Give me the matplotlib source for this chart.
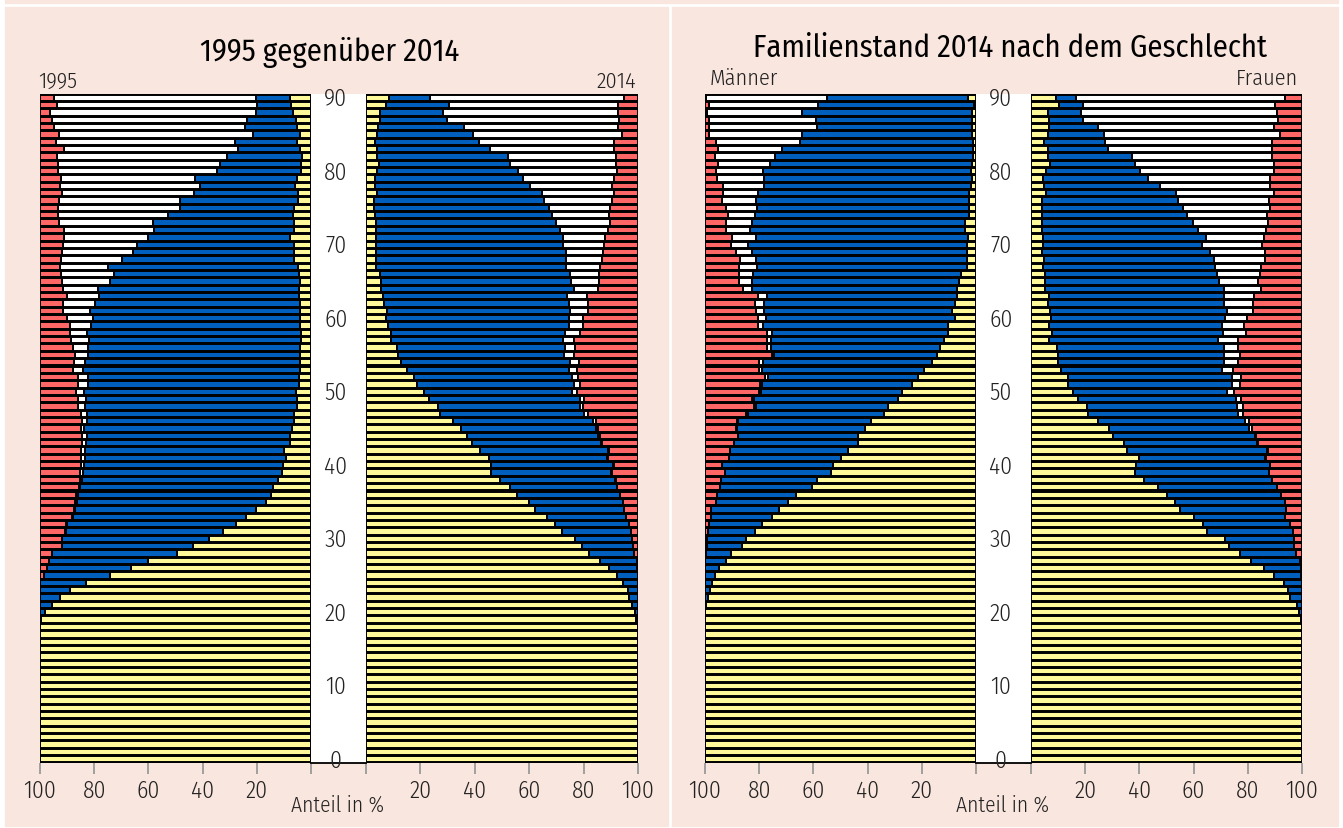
import numpy as np
import matplotlib
matplotlib.use("Agg")
import matplotlib.pyplot as plt
from matplotlib.patches import Rectangle
from matplotlib.transforms import blended_transform_factory, ScaledTranslation

plt.rcParams["font.family"] = ["Fira Sans Condensed", "Roboto Condensed",
                               "Liberation Sans Narrow", "DejaVu Sans"]
plt.rcParams["font.weight"] = 300

# ages from the top row (90) down to 0, all lists below use this order
alter = np.arange(90, -1, -1)

# --- 1995 (left panel, left half), shares in %
j1995_ledig = [
    7.7, 7.4, 6.8, 5.5, 5.2, 3.9, 5.2, 3.9, 3.2, 3.6,
    3.6, 5.2, 5.9, 4.9, 4.9, 6.2, 6.6, 6.2, 6.2, 7.6,
    6.4, 6.4, 6.2, 4.9, 4.6, 3.9, 4.6, 4.6, 4.1, 3.9,
    3.9, 4.1, 3.8, 3.8, 4.1, 4.1, 4.1, 4.1, 4.4, 4.4,
    5.7, 5.0, 5.0, 6.4, 6.4, 7.1, 7.6, 7.7, 9.8, 9.2,
    10.2, 10.8, 12.2, 14.0, 14.8, 16.7, 20.3, 24.1, 27.8, 32.3,
    37.5, 43.4, 49.4, 60.1, 66.5, 74.2, 83.1, 89.1, 92.5, 95.5,
    98.0, 99.5, 100, 100, 100, 100, 100, 100, 100, 100,
    100, 100, 100, 100, 100, 100, 100, 100, 100, 100, 100]
j1995_verh = [
    12.7, 12.6, 13.5, 18.0, 19.2, 17.4, 22.8, 22.9, 27.9, 29.9,
    31.2, 37.6, 34.9, 38.4, 43.3, 42.1, 46.3, 52.2, 51.6, 52.7,
    57.9, 59.4, 63.7, 70.1, 68.2, 70.4, 74.1, 73.5, 75.5, 77.5,
    76.7, 77.0, 78.9, 78.2, 78.3, 78.3, 79.2, 79.9, 78.0, 78.0,
    78.2, 78.0, 78.3, 76.1, 76.1, 76.5, 75.2, 75.3, 73.7, 74.3,
    73.4, 73.4, 72.4, 71.1, 71.1, 69.8, 66.8, 63.8, 62.4, 58.1,
    54.5, 48.5, 46.2, 36.7, 31.0, 24.4, 16.9, 10.9, 7.5, 4.5,
    2.0, 0.5, 0, 0, 0, 0, 0, 0, 0, 0,
    0, 0, 0, 0, 0, 0, 0, 0, 0, 0, 0]
j1995_verw = [
    74.4, 73.6, 76.0, 72.2, 70.3, 71.7, 66.2, 64.3, 62.6, 59.7,
    58.4, 49.3, 51.8, 48.7, 44.7, 45.2, 40.3, 34.5, 33.3, 30.7,
    27.3, 26.0, 22.4, 17.6, 19.3, 17.5, 12.9, 11.9, 11.8, 10.0,
    9.4, 7.7, 6.4, 6.4, 5.4, 4.7, 4.0, 3.9, 3.5, 3.5,
    2.7, 2.9, 2.8, 2.5, 1.9, 1.4, 1.6, 1.4, 1.5, 1.4,
    1.4, 1.0, 0.6, 0.5, 0.8, 0.5, 0.3, 0.2, 0.3, 0.3,
    0, 0, 0, 0, 0, 0, 0, 0, 0, 0,
    0, 0, 0, 0, 0, 0, 0, 0, 0, 0,
    0, 0, 0, 0, 0, 0, 0, 0, 0, 0, 0]
j1995_gesch = [
    5.2, 6.4, 3.7, 4.3, 5.3, 7.0, 5.8, 8.9, 6.3, 6.8,
    6.8, 7.9, 7.4, 8.0, 7.1, 6.5, 6.8, 7.1, 8.9, 9.0,
    8.4, 8.2, 7.7, 7.4, 7.9, 8.2, 8.4, 10.0, 8.6, 8.6,
    10.0, 11.2, 10.9, 11.6, 12.2, 12.9, 12.7, 12.1, 14.1, 14.1,
    13.4, 14.1, 13.9, 15.0, 15.6, 15.0, 15.6, 15.6, 15.0, 15.1,
    15.0, 14.8, 14.8, 14.4, 13.3, 13.0, 12.6, 11.9, 9.5, 9.3,
    8.0, 8.1, 4.4, 3.2, 2.5, 1.4, 0, 0, 0, 0,
    0, 0, 0, 0, 0, 0, 0, 0, 0, 0,
    0, 0, 0, 0, 0, 0, 0, 0, 0, 0, 0]

# --- 2014 (left panel, right half)
j2014_ledig = [
    8.3, 7.5, 5.0, 5.1, 4.5, 4.2, 3.2, 3.9, 4.2, 4.7,
    3.9, 3.2, 3.4, 4.0, 3.0, 3.1, 3.2, 3.6, 3.5, 3.6,
    3.8, 3.5, 3.7, 3.6, 5.2, 5.5, 5.6, 6.4, 6.7, 7.6,
    7.2, 8.1, 9.2, 9.2, 11.3, 11.9, 12.9, 15.1, 17.8, 18.6,
    21.4, 23.0, 26.3, 27.3, 31.9, 34.9, 37.1, 39.0, 41.9, 45.1,
    46.0, 46.0, 49.1, 52.9, 55.5, 59.8, 62.1, 66.4, 69.6, 72.1,
    76.8, 79.3, 82.0, 86.0, 89.2, 92.2, 94.6, 96.2, 96.8, 97.8,
    98.8, 99.4, 100, 100, 100, 100, 100, 100, 100, 100,
    100, 100, 100, 100, 100, 100, 100, 100, 100, 100, 100]
j2014_verh = [
    15.1, 23.1, 23.4, 24.8, 31.4, 35.1, 38.3, 41.7, 47.9, 48.4,
    52.0, 54.6, 57.0, 60.8, 62.6, 64.1, 65.3, 66.4, 67.9, 68.7,
    68.8, 70.2, 69.9, 70.1, 69.7, 70.0, 70.9, 67.6, 67.8, 67.5,
    67.3, 66.4, 64.0, 63.1, 62.0, 61.0, 62.1, 59.7, 57.8, 57.9,
    54.5, 55.8, 52.3, 53.0, 51.7, 49.5, 48.3, 47.3, 47.2, 43.6,
    44.9, 44.2, 42.6, 39.4, 37.9, 34.7, 32.6, 29.3, 27.0, 25.4,
    21.1, 18.9, 16.7, 13.5, 10.6, 7.8, 5.4, 3.8, 3.2, 2.2,
    1.2, 0.6, 0, 0, 0, 0, 0, 0, 0, 0,
    0, 0, 0, 0, 0, 0, 0, 0, 0, 0, 0]
j2014_verw = [
    71.3, 62.2, 64.4, 63.2, 56.9, 54.7, 49.8, 45.7, 39.8, 38.8,
    36.4, 33.5, 30.0, 26.4, 25.0, 22.6, 20.7, 19.7, 17.7, 15.6,
    15.0, 13.6, 13.0, 12.3, 10.9, 10.0, 8.9, 7.4, 7.2, 6.6,
    5.4, 5.2, 5.4, 4.3, 3.4, 3.4, 3.3, 2.8, 2.2, 2.2,
    1.7, 1.2, 1.3, 1.2, 1.1, 0.9, 0.5, 0.5, 0.2, 0.4,
    0.3, 0.2, 0.1, 0, 0, 0, 0, 0, 0, 0,
    0, 0, 0, 0, 0, 0, 0, 0, 0, 0,
    0, 0, 0, 0, 0, 0, 0, 0, 0, 0,
    0, 0, 0, 0, 0, 0, 0, 0, 0, 0, 0]
j2014_gesch = [
    5.3, 7.2, 7.2, 6.9, 7.2, 6.0, 8.7, 8.7, 8.1, 8.1,
    7.7, 8.7, 9.6, 8.8, 9.4, 10.2, 10.8, 10.3, 10.9, 12.1,
    12.4, 12.7, 13.4, 14.0, 14.2, 14.5, 14.6, 18.6, 18.3, 18.3,
    20.1, 20.3, 21.4, 23.4, 23.3, 23.7, 21.7, 22.4, 22.2, 21.3,
    22.4, 20.0, 20.1, 18.5, 15.3, 14.7, 14.1, 13.2, 10.7, 10.9,
    8.8, 9.6, 8.2, 7.7, 6.6, 5.5, 5.3, 4.3, 3.4, 2.5,
    2.1, 1.8, 1.3, 0.5, 0.2, 0, 0, 0, 0, 0,
    0, 0, 0, 0, 0, 0, 0, 0, 0, 0,
    0, 0, 0, 0, 0, 0, 0, 0, 0, 0, 0]

# --- Männer 2014 (right panel, left half)
maenner_ledig = [
    3.0, 0.8, 1.6, 1.3, 1.3, 1.3, 1.0, 1.0, 1.2, 1.5,
    1.9, 1.6, 1.9, 2.7, 2.4, 2.4, 2.4, 3.9, 3.9, 3.0,
    3.4, 3.4, 3.3, 3.3, 5.7, 6.3, 6.9, 6.9, 7.6, 8.7,
    7.9, 10.2, 10.5, 11.7, 13.2, 14.5, 16.2, 19.2, 21.4, 23.8,
    27.4, 28.9, 32.5, 33.8, 38.6, 40.9, 43.4, 43.4, 47.3, 49.9,
    52.7, 53.4, 58.7, 60.6, 66.3, 69.3, 72.6, 75.3, 78.9, 81.6,
    85.0, 86.4, 90.3, 92.1, 94.8, 96.3, 97.3, 98.0, 98.8, 99.5,
    100, 100, 100, 100, 100, 100, 100, 100, 100, 100,
    100, 100, 100, 100, 100, 100, 100, 100, 100, 100, 100]
maenner_verh = [
    51.8, 57.6, 62.5, 57.7, 57.4, 62.8, 64.1, 70.6, 72.9, 74.5,
    76.7, 76.8, 76.2, 77.8, 78.7, 78.4, 79.2, 78.9, 79.5, 78.1,
    80.7, 79.4, 78.0, 77.5, 76.6, 76.5, 75.9, 70.2, 70.7, 69.4,
    69.6, 68.4, 64.8, 63.9, 62.4, 60.1, 62.4, 59.8, 55.4, 55.2,
    52.1, 53.1, 48.8, 50.5, 49.4, 47.4, 44.6, 45.8, 43.6, 41.4,
    41.0, 39.1, 35.3, 33.9, 29.1, 26.7, 25.2, 22.6, 19.6, 17.2,
    14.2, 13.0, 9.5, 7.9, 5.2, 3.7, 2.7, 2.0, 1.2, 0.5,
    0, 0, 0, 0, 0, 0, 0, 0, 0, 0,
    0, 0, 0, 0, 0, 0, 0, 0, 0, 0, 0]
maenner_verw = [
    45.0, 40.3, 35.2, 39.7, 40.0, 34.6, 30.9, 23.5, 22.2, 19.1,
    17.4, 17.1, 15.2, 12.8, 12.5, 11.4, 9.9, 9.3, 8.7, 9.0,
    6.2, 5.8, 5.7, 6.5, 5.0, 4.6, 3.3, 3.3, 3.1, 3.2,
    3.0, 1.9, 1.9, 1.6, 1.6, 0.7, 1.5, 1.2, 1.0, 0.8,
    0.5, 0.6, 0.6, 0.4, 0.2, 0.1, 0, 0, 0, 0,
    0, 0, 0, 0, 0, 0, 0, 0, 0, 0,
    0, 0, 0, 0, 0, 0, 0, 0, 0, 0,
    0, 0, 0, 0, 0, 0, 0, 0, 0, 0,
    0, 0, 0, 0, 0, 0, 0, 0, 0, 0, 0]
maenner_gesch = [
    0.2, 1.3, 0.7, 1.3, 1.3, 1.3, 4.0, 4.9, 3.7, 4.9,
    4.0, 4.5, 6.7, 6.7, 6.4, 7.8, 8.5, 7.9, 7.9, 9.9,
    9.7, 11.4, 13.0, 12.7, 12.7, 12.6, 13.9, 19.6, 18.6, 18.7,
    19.5, 19.5, 22.8, 22.8, 22.8, 24.7, 19.9, 19.8, 22.2, 20.2,
    20.0, 17.4, 18.1, 15.3, 11.8, 11.6, 12.0, 10.8, 9.1, 8.7,
    6.3, 7.5, 6.0, 5.5, 4.6, 4.0, 2.2, 2.1, 1.5, 1.2,
    0.8, 0.6, 0.2, 0, 0, 0, 0, 0, 0, 0,
    0, 0, 0, 0, 0, 0, 0, 0, 0, 0,
    0, 0, 0, 0, 0, 0, 0, 0, 0, 0, 0]

# --- Frauen 2014 (right panel, right half)
frauen_ledig = [
    9.4, 10.5, 6.1, 6.7, 6.7, 6.1, 4.9, 6.4, 6.4, 7.0,
    5.7, 4.6, 4.9, 5.7, 4.2, 4.2, 4.2, 4.2, 3.9, 4.6,
    4.6, 4.2, 4.9, 4.6, 5.2, 5.2, 5.2, 6.7, 6.4, 7.0,
    7.3, 6.7, 7.9, 6.7, 9.7, 9.9, 9.9, 10.9, 13.6, 13.6,
    15.4, 17.2, 20.5, 21.1, 24.9, 28.9, 30.4, 34.3, 35.6, 39.8,
    38.8, 38.2, 41.6, 46.9, 50.1, 53.3, 55.1, 60.0, 63.6, 64.8,
    71.6, 72.9, 77.1, 81.3, 86.1, 89.5, 93.3, 94.9, 95.5, 98.0,
    98.8, 99.5, 100, 100, 100, 100, 100, 100, 100, 100,
    100, 100, 100, 100, 100, 100, 100, 100, 100, 100, 100]
frauen_verh = [
    7.2, 8.7, 12.2, 12.5, 18.2, 20.8, 22.5, 22.0, 30.7, 31.2,
    34.4, 38.5, 42.7, 47.9, 50.1, 51.9, 53.4, 55.4, 57.6, 59.9,
    58.4, 61.8, 62.6, 63.2, 63.4, 64.0, 66.1, 64.4, 65.0, 65.3,
    64.3, 63.7, 62.9, 62.3, 61.4, 61.4, 61.4, 59.5, 60.4, 60.4,
    56.8, 58.4, 55.5, 55.4, 54.1, 51.6, 52.2, 49.2, 51.5, 46.6,
    49.4, 49.5, 47.5, 43.7, 42.0, 40.3, 38.9, 33.7, 31.8, 31.9,
    25.3, 24.3, 20.8, 17.9, 13.5, 10.3, 6.7, 5.1, 4.5, 2.0,
    1.2, 0.5, 0, 0, 0, 0, 0, 0, 0, 0,
    0, 0, 0, 0, 0, 0, 0, 0, 0, 0, 0]
frauen_verw = [
    77.0, 70.9, 72.3, 72.1, 64.9, 64.9, 61.4, 60.4, 51.7, 51.6,
    49.7, 45.2, 40.7, 35.9, 33.7, 32.2, 29.5, 28.0, 25.3, 21.3,
    22.3, 20.5, 19.0, 17.2, 16.0, 14.6, 13.7, 11.1, 10.5, 9.7,
    8.2, 8.3, 8.4, 7.3, 5.4, 5.9, 5.0, 4.2, 3.5, 3.1,
    2.7, 1.8, 2.1, 1.9, 1.5, 1.1, 0.6, 0.3, 0.2, 0.2,
    0.1, 0.1, 0, 0, 0, 0, 0, 0, 0, 0,
    0, 0, 0, 0, 0, 0, 0, 0, 0, 0,
    0, 0, 0, 0, 0, 0, 0, 0, 0, 0,
    0, 0, 0, 0, 0, 0, 0, 0, 0, 0, 0]
frauen_gesch = [
    6.4, 9.9, 9.4, 8.7, 10.2, 8.2, 11.2, 11.2, 11.2, 10.2,
    10.2, 11.7, 11.7, 10.5, 12.0, 11.7, 12.9, 12.4, 13.2, 14.2,
    14.7, 13.5, 13.5, 15.0, 15.4, 16.2, 15.0, 17.8, 18.1, 18.0,
    20.2, 21.3, 20.8, 23.7, 23.5, 22.8, 23.7, 25.4, 22.5, 22.9,
    25.1, 22.6, 21.9, 21.6, 19.5, 18.4, 16.8, 16.2, 12.7, 13.4,
    11.7, 12.2, 10.9, 9.4, 7.9, 6.4, 6.0, 6.3, 4.6, 3.3,
    3.1, 2.8, 2.1, 0.8, 0.4, 0.2, 0, 0, 0, 0,
    0, 0, 0, 0, 0, 0, 0, 0, 0, 0,
    0, 0, 0, 0, 0, 0, 0, 0, 0, 0, 0]

alters_ticks = [0, 10, 20, 30, 40, 50, 60, 70, 80, 90]
anteil_ticks = [0, 20, 40, 60, 80, 100]
anteil_labels = ["", "20", "40", "60", "80", "100"]

# ledig, verheiratet, verwitwet, geschieden
farben = ["#fff999", "#005ebd", "#ffffff", "#ff6666"]
rosa = "#f9e6de"
textfarbe = "#222222"

W, H = 1343, 829
fig = plt.figure(figsize=(W / 100, H / 100), dpi=100)
fig.patch.set_facecolor("white")


def px_axes(x0, y0, x1, y1):
    return fig.add_axes([x0 / W, 1 - y1 / H, (x1 - x0) / W, (y1 - y0) / H])


def px_rect(x0, y0, x1, y1, color):
    fig.patches.append(Rectangle((x0 / W, 1 - y1 / H), (x1 - x0) / W, (y1 - y0) / H,
                                 transform=fig.transFigure, color=color, zorder=-5))


# panel backgrounds
px_rect(5, 0, 1338, 4, rosa)
px_rect(5, 8, 668, 827, rosa)
px_rect(672, 8, 1338, 827, rosa)


def halbe_pyramide(box, anteile, gespiegelt):
    ax = px_axes(*box)
    start = np.zeros(len(alter))
    for werte, farbe in zip(anteile, farben):
        werte = np.asarray(werte, dtype=float)
        ax.barh(alter + 0.5, werte, left=start, height=0.86, color=farbe,
                edgecolor="black", linewidth=1.4)
        start += werte
    ax.set_facecolor("black")
    ax.set_ylim(0, 91)
    ax.set_xlim((100, 0) if gespiegelt else (0, 100))
    for s in ax.spines.values():
        s.set_visible(False)
    ax.set_xticks(anteil_ticks)
    ax.set_xticklabels(anteil_labels)
    ax.tick_params(axis="x", length=8, width=1.3, color="#9a9a9a", pad=3,
                   labelsize=17, labelcolor=textfarbe)
    ax.set_yticks(alters_ticks)
    if gespiegelt:
        ax.tick_params(axis="y", length=0, labelleft=False)
    else:
        ax.tick_params(axis="y", length=4, width=1.2, color="#9a9a9a",
                       labelleft=False)
    return ax


def mittelstreifen(box, x_mitte):
    ax = px_axes(*box)
    ax.set_facecolor("white")
    ax.set_ylim(0, 91)
    ax.set_xlim(0, 1)
    ax.set_xticks([])
    ax.set_yticks([])
    for name, s in ax.spines.items():
        s.set_visible(name == "bottom")
    ax.spines["bottom"].set_linewidth(1.3)
    # labels sit a few pixels above their tick marks
    trans = (blended_transform_factory(ax.transAxes, ax.transData)
             + ScaledTranslation(0, 3 / 100, fig.dpi_scale_trans))
    for a in alters_ticks:
        ax.text(0.45, a, str(a), transform=trans, ha="center", va="center",
                fontsize=17, color=textfarbe)
    fig.text(x_mitte / W, 1 - 805 / H, "Anteil in %", ha="center", va="center",
             fontsize=15.5, color=textfarbe)


# left panel: 1995 vs 2014
halbe_pyramide((40, 95, 311, 764),
               [j1995_ledig, j1995_verh, j1995_verw, j1995_gesch], True)
halbe_pyramide((366, 95, 638, 764),
               [j2014_ledig, j2014_verh, j2014_verw, j2014_gesch], False)
mittelstreifen((311, 95, 366, 764), 338)

# right panel: Männer vs Frauen 2014
halbe_pyramide((705, 95, 976, 764),
               [maenner_ledig, maenner_verh, maenner_verw, maenner_gesch], True)
halbe_pyramide((1031, 95, 1302, 764),
               [frauen_ledig, frauen_verh, frauen_verw, frauen_gesch], False)
mittelstreifen((976, 95, 1031, 764), 1003)

# titles and labels
fig.text(330 / W, 1 - 52 / H, "1995 gegenüber 2014", ha="center", va="center",
         fontsize=22, fontweight=400, color="black")
fig.text(1010 / W, 1 - 48 / H, "Familienstand 2014 nach dem Geschlecht",
         ha="center", va="center", fontsize=22, fontweight=400, color="black")
fig.text(38 / W, 1 - 82 / H, "1995", ha="left", va="center", fontsize=16,
         color=textfarbe)
fig.text(636 / W, 1 - 82 / H, "2014", ha="right", va="center", fontsize=16,
         color=textfarbe)
fig.text(710 / W, 1 - 79 / H, "Männer", ha="left", va="center", fontsize=16,
         color=textfarbe)
fig.text(1298 / W, 1 - 79 / H, "Frauen", ha="right", va="center", fontsize=16,
         color=textfarbe)

fig.savefig("out.png", dpi=100)
